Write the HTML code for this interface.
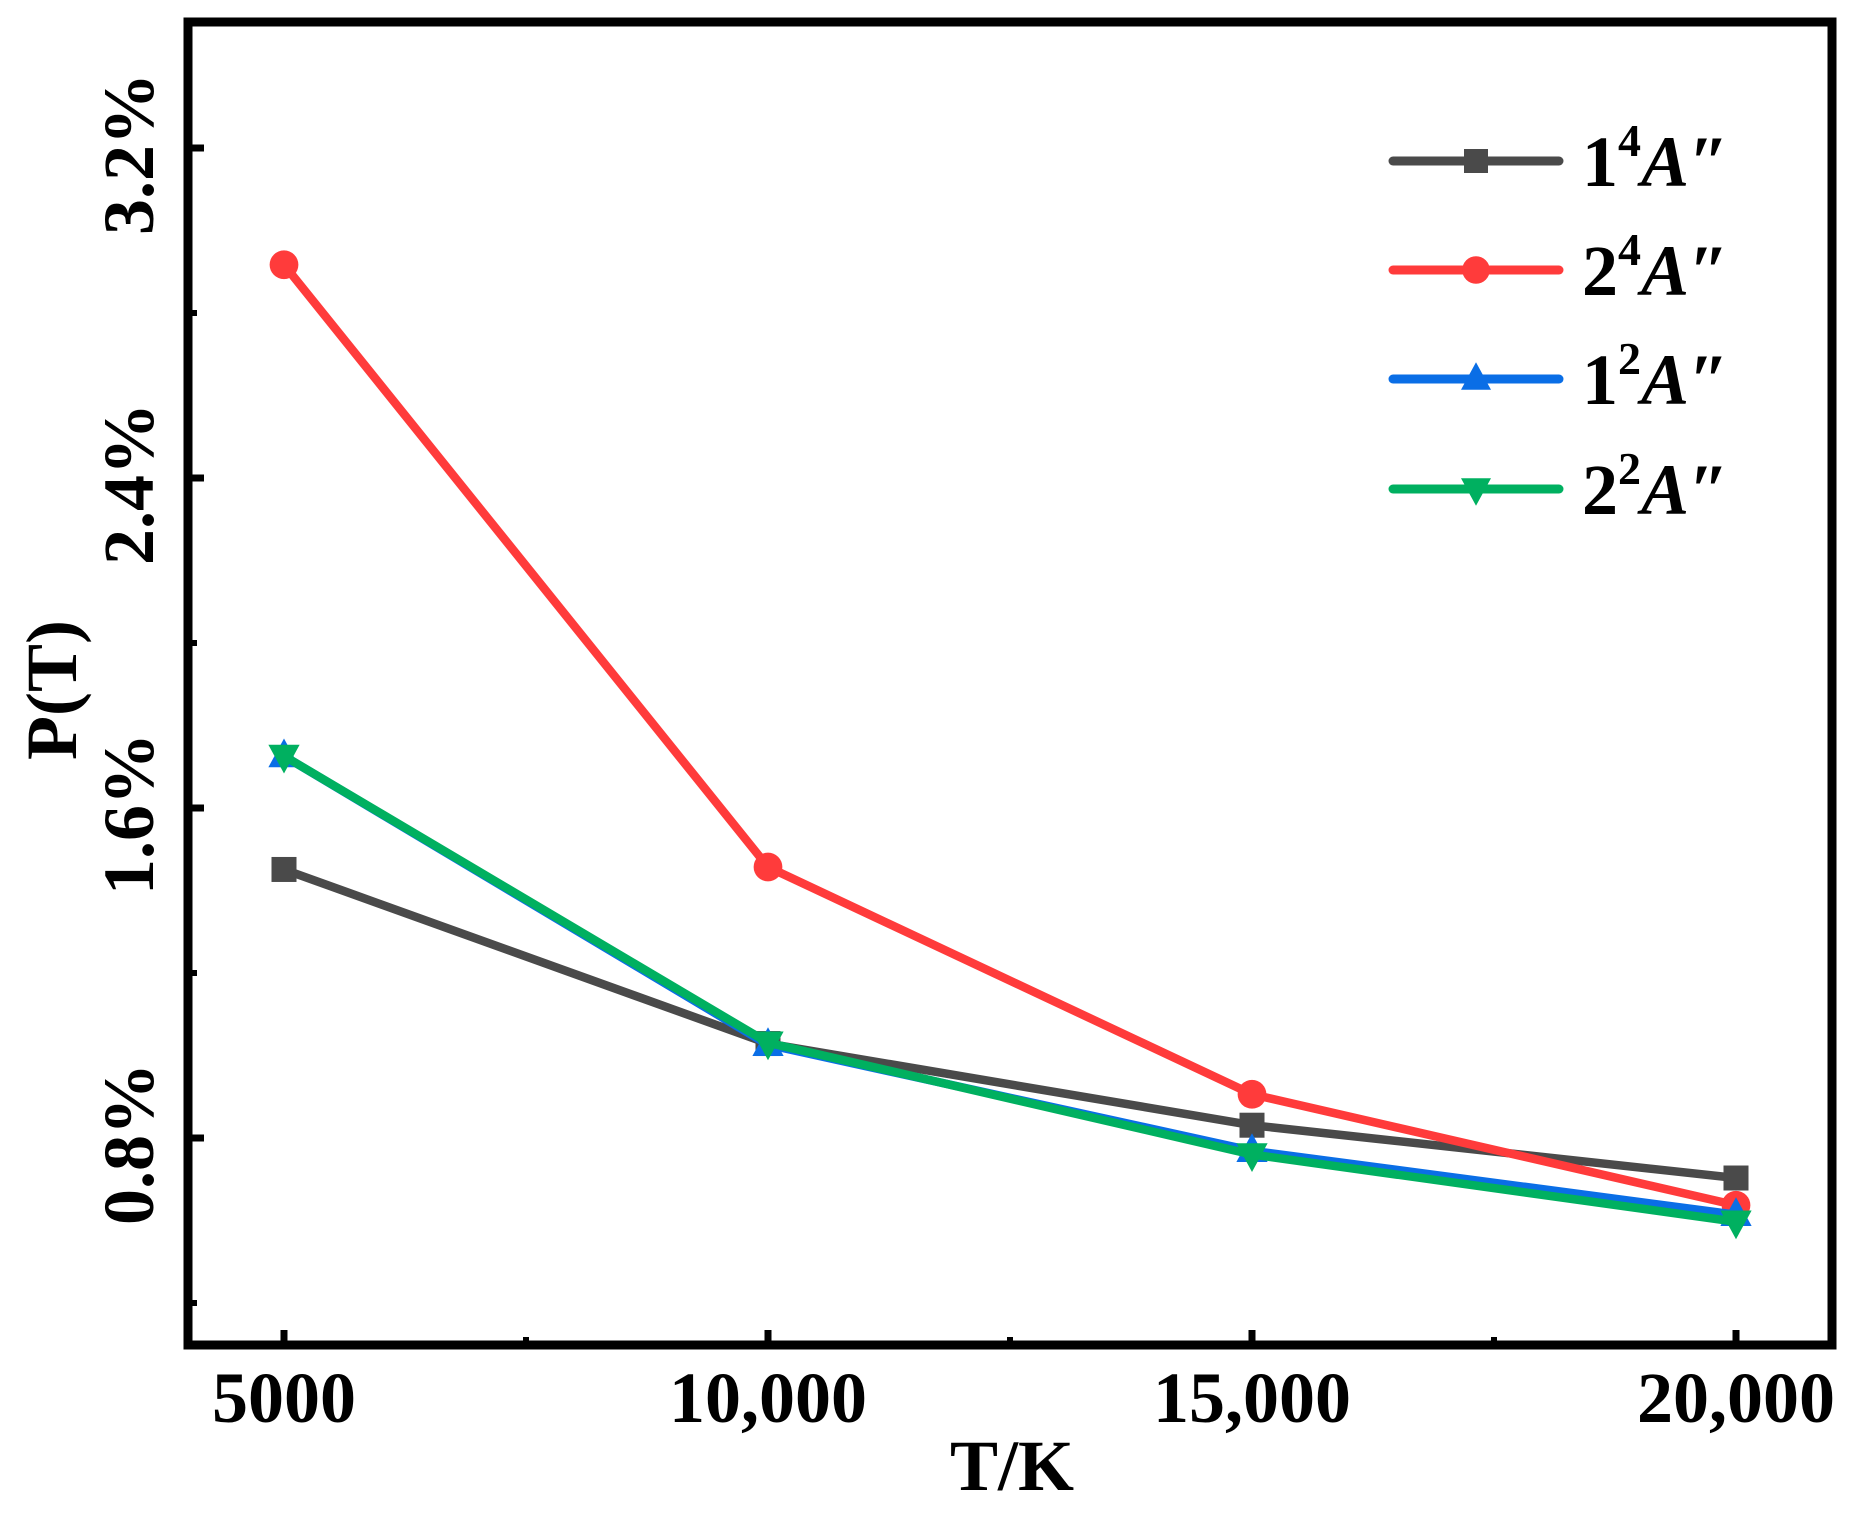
<!DOCTYPE html>
<html><head><meta charset="utf-8"><style>
html,body{margin:0;padding:0;background:#fff}
svg{display:block}
text{font-family:"Liberation Serif",serif;font-weight:bold;fill:#000}
</style></head><body>
<svg id="chart" width="1850" height="1514" viewBox="0 0 1850 1514">
<rect x="188" y="22" width="1644" height="1323" fill="none" stroke="#000" stroke-width="9"/>
<g id="axes"></g>
<g id="series"></g>
<g id="legend"></g>
<text x="1012" y="1490" font-size="72" text-anchor="middle">T/K</text>
<text transform="translate(76,690) rotate(-90)" font-size="72" text-anchor="middle">P(T)</text>
</svg>
<script>
const categories = [5000, 10000, 15000, 20000];
const xTickLabels = ["5000", "10,000", "15,000", "20,000"];
const yTicks = [0.8, 1.6, 2.4, 3.2];
const yTickLabels = ["0.8%", "1.6%", "2.4%", "3.2%"];
const s1 = [1.451, 1.029, 0.831, 0.703];
const s2 = [2.917, 1.457, 0.906, 0.637];
const s3 = [1.726, 1.026, 0.769, 0.614];
const s4 = [1.726, 1.031, 0.760, 0.597];
const seriesNames = ["1", "2", "1", "2"];
const seriesSups = ["4", "4", "2", "2"];

const NS = "http://www.w3.org/2000/svg";
function xs(v){ return 284 + (v - 5000) / 5000 * 484; }
function ys(v){ return 1138 - (v - 0.8) * 412.5; }
function mk(tag, attrs, parent){ const e = document.createElementNS(NS, tag); for (const k in attrs) e.setAttribute(k, attrs[k]); parent.appendChild(e); return e; }

const axes = document.getElementById('axes');
categories.forEach((c, i) => {
  const t = mk('line', {x1: xs(c), x2: xs(c), y1: 1345, y2: 1330, stroke: '#000', 'stroke-width': 7}, axes);
  
  
  const l = mk('text', {x: xs(c), y: 1422, 'font-size': 72, 'text-anchor': 'middle'}, axes);
  l.textContent = xTickLabels[i];
  
  
  if (i < categories.length - 1) {
    const m = mk('line', {x1: xs(c + 2500), x2: xs(c + 2500), y1: 1345, y2: 1337, stroke: '#000', 'stroke-width': 6}, axes);
    
    
  }
});
yTicks.forEach((v, i) => {
  const t = mk('line', {x1: 188, x2: 204, y1: ys(v), y2: ys(v), stroke: '#000', 'stroke-width': 7}, axes);
  
  
  const l = mk('text', {transform: 'translate(153,' + (ys(v) + 6) + ') rotate(-90)', 'font-size': 72, 'text-anchor': 'middle'}, axes);
  l.textContent = yTickLabels[i];
  
  
});
[0.4, 1.2, 2.0, 2.8].forEach(v => {
  const m = mk('line', {x1: 188, x2: 197, y1: ys(v), y2: ys(v), stroke: '#000', 'stroke-width': 6}, axes);
  
  
});

const colors = ['#4a4a4a', '#ff3b3b', '#0a6ee6', '#00b060'];
const shapes = ['square', 'circle', 'up', 'down'];
const data = [s1, s2, s3, s4];
function marker(shape, x, y, color, parent, size){
  let e;
  if (shape === 'square') e = mk('rect', {x: x - size, y: y - size, width: 2 * size, height: 2 * size, fill: color}, parent);
  else if (shape === 'circle') e = mk('circle', {cx: x, cy: y, r: size * 1.15, fill: color}, parent);
  else if (shape === 'up') e = mk('polygon', {points: `${x},${y - size * 1.4} ${x - size * 1.25},${y + size * 0.9} ${x + size * 1.25},${y + size * 0.9}`, fill: color}, parent);
  else e = mk('polygon', {points: `${x},${y + size * 1.4} ${x - size * 1.25},${y - size * 0.9} ${x + size * 1.25},${y - size * 0.9}`, fill: color}, parent);
  return e;
}
const sg = document.getElementById('series');
data.forEach((arr, si) => {
  const g = mk('g', {}, sg);
  
  
  const pl = mk('polyline', {points: arr.map((v, i) => xs(categories[i]) + ',' + ys(v)).join(' '), fill: 'none', stroke: colors[si], 'stroke-width': 8.5, 'stroke-linejoin': 'round'}, g);
  
  
  arr.forEach((v, i) => {
    const m = marker(shapes[si], xs(categories[i]), ys(v), colors[si], g, 12.5);
    
    
  });
});

const lg = document.getElementById('legend');


[161, 270, 379, 489].forEach((y, i) => {
  const g = mk('g', {}, lg);
  
  
  mk('line', {x1: 1393, x2: 1559, y1: y, y2: y, stroke: colors[i], 'stroke-width': 9, 'stroke-linecap': 'round'}, g);
  marker(shapes[i], 1476, y, colors[i], g, 12);
  const t = mk('text', {x: 1582, y: y + 25, 'font-size': 72}, g);
  t.innerHTML = seriesNames[i] + '<tspan dy="-30" font-size="46">' + seriesSups[i] + '</tspan><tspan dy="30" font-style="italic">A</tspan><tspan font-style="italic">″</tspan>';
});
</script>
</body></html>
